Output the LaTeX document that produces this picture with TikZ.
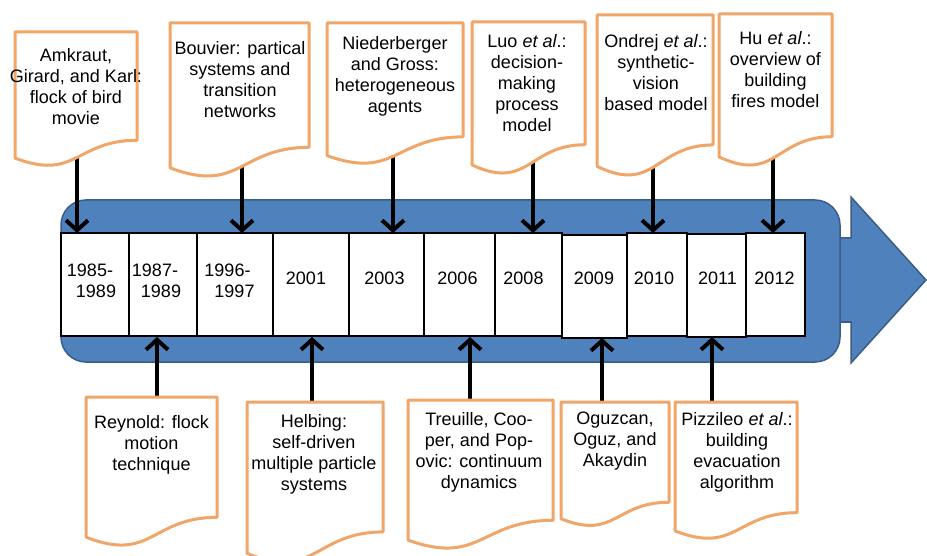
\documentclass[tikz,border=0pt]{standalone}
\usepackage{fontspec}
\setmainfont{Liberation Sans}
\usetikzlibrary{arrows.meta}
\definecolor{bandblue}{RGB}{79,129,189}
\definecolor{bandline}{RGB}{56,93,138}
\definecolor{docorange}{RGB}{240,165,105}
\newcommand\docshape[4]{%
  \pgfmathsetmacro\dcx{(#1+#3)/2}%
  \pgfmathsetmacro\dyr{#2+0.802*#4}%
  \pgfmathsetmacro\dyc{#2+1.107*#4}%
  \pgfmathsetmacro\dyl{#2+0.934*#4}%
  \draw[docbox] (#1,#2) -- (#3,#2) -- (#3,\dyr) .. controls (\dcx,\dyr) and (\dcx,\dyc) .. (#1,\dyl) -- cycle;}
\tikzset{
  docbox/.style={draw=docorange, line width=3, fill=white, line join=round},
  cell/.style={draw=black, line width=1.2, fill=white, inner sep=0},
  yeartext/.style={font=\fontsize{18}{21}\selectfont, align=center, inner sep=0},
  yeartwo/.style={font=\fontsize{18}{21}\selectfont, align=left, inner sep=0},
  boxtext/.style={font=\fontsize{18}{21}\selectfont, align=center, inner sep=0},
  conn/.style={line width=4, -{Straight Barb[length=10pt,width=22pt]}},
  band/.style={fill=bandblue, draw=bandline, line width=1.5},
}
\begin{document}
\begin{tikzpicture}[x=1pt,y=-1pt]
\useasboundingbox (0,0) rectangle (927,556);
% timeline arrow
\draw[band, line join=miter] (836,238) -- (851,238) -- (851,197) -- (926,280) -- (851,363) -- (851,322) -- (836,322) -- cycle;
\draw[band, rounded corners=25] (61,200) rectangle (840,362);
% cells
\node[cell, minimum width=68, minimum height=103] (c1) at (95,284.5) {};
\node[cell, minimum width=68, minimum height=103] (c2) at (163,284.5) {};
\node[cell, minimum width=76, minimum height=103] (c3) at (235,284.5) {};
\node[cell, minimum width=76, minimum height=103] (c4) at (311,284.5) {};
\node[cell, minimum width=75, minimum height=103] (c5) at (386.5,284.5) {};
\node[cell, minimum width=71, minimum height=103] (c6) at (459.5,284.5) {};
\node[cell, minimum width=67, minimum height=103] (c7) at (528.5,284.5) {};
\node[cell, minimum width=65, minimum height=103] (c8) at (594.5,286.5) {};
\node[cell, minimum width=60, minimum height=103] (c9) at (657,284.5) {};
\node[cell, minimum width=59, minimum height=103] (c10) at (716.5,285.5) {};
\node[cell, minimum width=59, minimum height=103] (c11) at (775.5,284.5) {};
% year labels
\node[yeartwo] (y1) at (91.5,281) {1985-\\\hspace*{9pt}1989};
\node[yeartwo] (y2) at (156.5,281) {1987-\\\hspace*{9pt}1989};
\node[yeartwo] (y3) at (229.5,281) {1996-\\\hspace*{10pt}1997};
\node[yeartext] (y4) at (306,278.5) {2001};
\node[yeartext] (y5) at (384.5,278.5) {2003};
\node[yeartext] (y6) at (457.5,278.5) {2006};
\node[yeartext] (y7) at (523.5,278.5) {2008};
\node[yeartext] (y8) at (594,278.5) {2009};
\node[yeartext] (y9) at (654,278.5) {2010};
\node[yeartext] (y10) at (717.5,278.5) {2011};
\node[yeartext] (y11) at (774.5,278.5) {2012};
% connector anchors
\coordinate (a1) at (77,130);   \coordinate (e1) at (77,233);
\coordinate (a2) at (242,140);  \coordinate (e2) at (242,233);
\coordinate (a3) at (393,130);  \coordinate (e3) at (393,233);
\coordinate (a4) at (533,140);  \coordinate (e4) at (533,233);
\coordinate (a5) at (653,140);  \coordinate (e5) at (653,233);
\coordinate (a6) at (773,130);  \coordinate (e6) at (773,233);
\coordinate (b1) at (157,420);  \coordinate (f1) at (157,337);
\coordinate (b2) at (312,420);  \coordinate (f2) at (312,337);
\coordinate (b3) at (470,420);  \coordinate (f3) at (470,337);
\coordinate (b4) at (602,420);  \coordinate (f4) at (602,338);
\coordinate (b5) at (712,420);  \coordinate (f5) at (712,337);
\foreach \i in {1,...,6} \draw[conn] (a\i) -- (e\i);
\foreach \i in {1,...,5} \draw[conn] (b\i) -- (f\i);
% document boxes
\docshape{15}{32}{137}{135}
\docshape{170}{23}{309}{155}
\docshape{327}{23}{463}{142}
\docshape{472}{22}{585}{153}
\docshape{597}{15}{713}{162}
\docshape{719}{14}{832}{153}
\docshape{86}{397}{217}{150}
\docshape{247}{402}{383}{162}
\docshape{408}{400}{553}{150}
\docshape{561}{402}{669}{125}
\docshape{675}{402}{797}{138}
% box texts
\node[boxtext] (t1) at (76,87) {Amkraut,\\Girard, and Karl:\\flock of bird\\movie};
\node[boxtext] (t2) at (240,80) {Bouvier: partical\\systems and\\transition\\networks};
\node[boxtext] (t3) at (395,76) {Niederberger\\and Gross:\\heterogeneous\\agents};
\node[boxtext] (t4) at (527,83) {Luo \textit{et al}.:\\decision-\\making\\process\\model};
\node[boxtext] (t5) at (656,73) {Ondrej \textit{et al}.:\\synthetic-\\vision\\based model};
\node[boxtext] (t6) at (775.5,70) {Hu \textit{et al}.:\\overview of\\building\\fires model};
\node[boxtext] (u1) at (151.5,445) {Reynold: flock\\motion\\technique};
\node[boxtext] (u2) at (314,454.5) {Helbing:\\self-driven\\multiple particle\\systems};
\node[boxtext] (u3) at (479,452) {Treuille, Coo-\\per, and Pop-\\ovic: continuum\\dynamics};
\node[boxtext] (u4) at (615,441.5) {Oguzcan,\\Oguz, and\\Akaydin};
\node[boxtext] (u5) at (737,452.5) {Pizzileo \textit{et al}.:\\building\\evacuation\\algorithm};
\end{tikzpicture}
\end{document}
